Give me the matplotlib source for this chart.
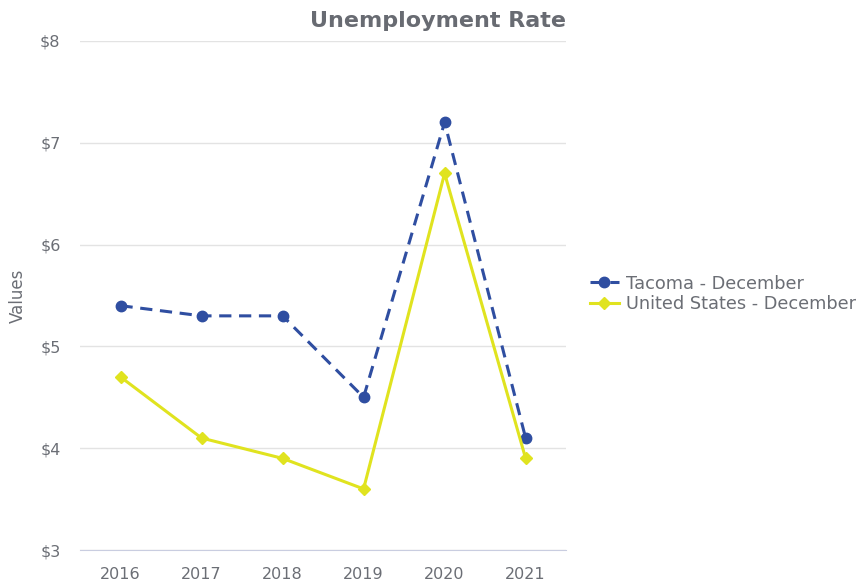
import matplotlib
matplotlib.use('Agg')
import matplotlib.pyplot as plt
import numpy as np

years = ['2016', '2017', '2018', '2019', '2020', '2021']
tacoma = [5.4, 5.3, 5.3, 4.5, 7.2, 4.1]
us = [4.7, 4.1, 3.9, 3.6, 6.7, 3.9]
yticks = [3, 4, 5, 6, 7, 8]

plt.rcParams['font.family'] = ['DejaVu Sans']
grey = '#6b6e75'

fig = plt.figure(figsize=(8.63, 5.83), dpi=100)
ax = fig.add_axes([0.0927, 0.0566, 0.5633, 0.8731])

x = np.arange(len(years))
ax.plot(x, tacoma, '--', color='#2f4ea1', lw=2.2, marker='o', ms=7.5,
        dashes=(4, 2.5), label='Tacoma - December', zorder=3)
ax.plot(x, us, '-', color='#e0e31f', lw=2.2, marker='D', ms=6,
        label='United States - December', zorder=3)

ax.set_xlim(-0.5, 5.5)
ax.set_ylim(3, 8)
ax.set_xticks(x)
ax.set_xticklabels(years)
ax.set_yticks(yticks)
ax.set_yticklabels(['$%d' % v for v in yticks])
ax.grid(axis='y', color='#e3e3e3', lw=1)
ax.set_axisbelow(True)
for s in ['top', 'right', 'left']:
    ax.spines[s].set_visible(False)
ax.spines['bottom'].set_color('#c9cde0')
ax.tick_params(length=0, colors=grey, labelsize=11.5)
ax.tick_params(axis='x', pad=12)
ax.tick_params(axis='y', pad=14)

fig.text(18 / 863, 1 - 296 / 583, 'Values', rotation=90, color=grey,
         fontsize=12, ha='center', va='center')

ax.set_title('Unemployment Rate', loc='right', fontsize=16, fontweight='bold',
             color='#686b72', pad=10)

leg = ax.legend(loc='center left', bbox_to_anchor=(1.035, 0.503), frameon=False,
                fontsize=12.8, labelcolor=grey, handlelength=1.6,
                handletextpad=0.4, borderaxespad=0, labelspacing=0.15)

fig.savefig('out.png', dpi=100)
